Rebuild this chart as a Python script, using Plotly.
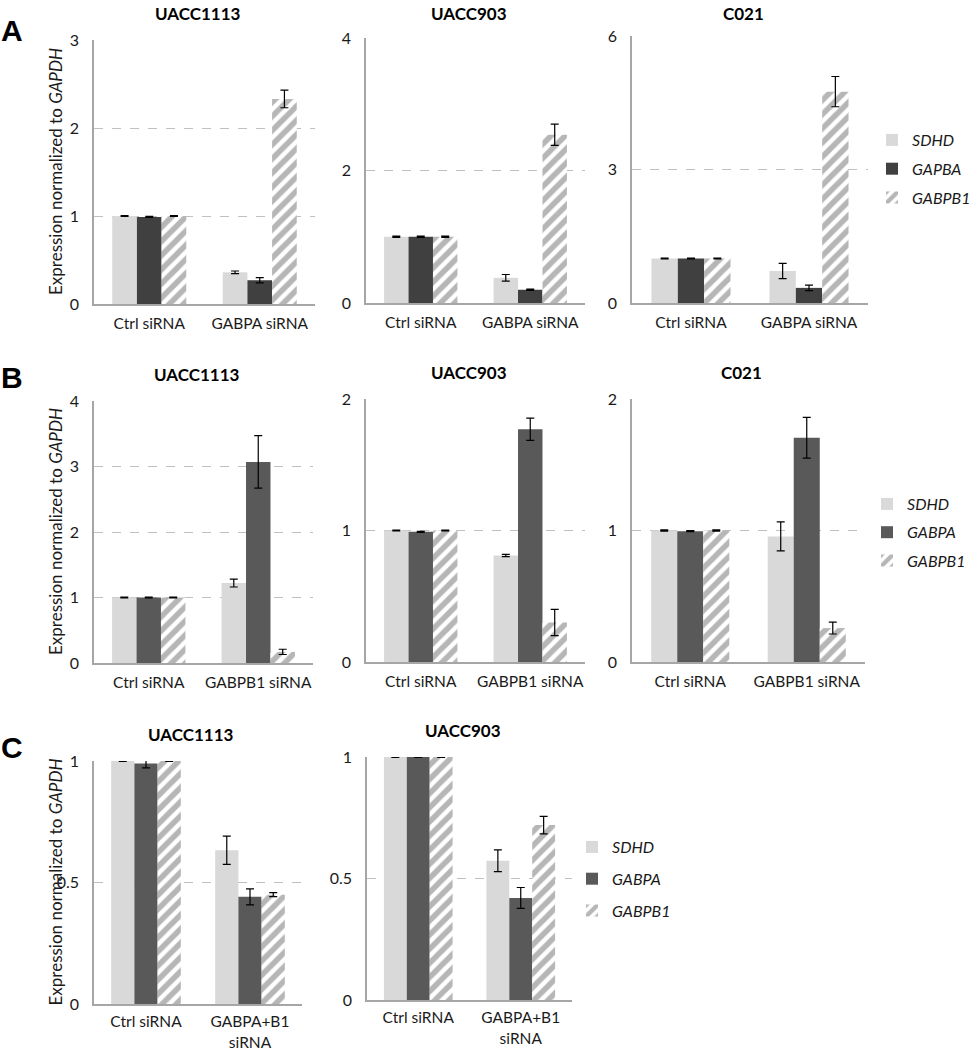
import plotly.graph_objects as go
from plotly.subplots import make_subplots

W, H = 972, 1050

# legend labels (row A legend is printed as "GAPBA" in the source figure)
genes_a = ["SDHD", "GAPBA", "GABPB1"]
genes_bc = ["SDHD", "GABPA", "GABPB1"]

cats_a = ["Ctrl siRNA", "GABPA siRNA"]
cats_b = ["Ctrl siRNA", "GABPB1 siRNA"]
cats_c = ["Ctrl siRNA", "GABPA+B1<br>siRNA"]

# each list: [SDHD, GABPA, GABPB1], each gene -> [ctrl, knockdown]
a_uacc1113 = [[1.00, 0.36], [0.99, 0.27], [1.00, 2.33]]
a_uacc1113_err = [[0.004, 0.015], [0.006, 0.03], [0.004, 0.10]]
a_uacc903 = [[1.00, 0.38], [1.00, 0.20], [1.00, 2.54]]
a_uacc903_err = [[0.008, 0.05], [0.01, 0.01], [0.008, 0.16]]
a_c021 = [[1.00, 0.72], [1.00, 0.34], [1.00, 4.75]]
a_c021_err = [[0.01, 0.17], [0.01, 0.06], [0.01, 0.34]]

b_uacc1113 = [[1.00, 1.22], [1.00, 3.07], [1.00, 0.17]]
b_uacc1113_err = [[0.006, 0.06], [0.006, 0.40], [0.006, 0.04]]
b_uacc903 = [[1.00, 0.81], [0.99, 1.77], [1.00, 0.30]]
b_uacc903_err = [[0.003, 0.008], [0.004, 0.085], [0.003, 0.10]]
b_c021 = [[1.00, 0.955], [0.995, 1.705], [1.00, 0.258]]
b_c021_err = [[0.004, 0.11], [0.004, 0.155], [0.004, 0.045]]

c_uacc1113 = [[1.00, 0.633], [0.99, 0.441], [1.00, 0.45]]
c_uacc1113_err = [[0.002, 0.058], [0.018, 0.033], [0.002, 0.008]]
c_uacc903 = [[1.00, 0.573], [1.00, 0.42], [1.00, 0.72]]
c_uacc903_err = [[0.002, 0.045], [0.002, 0.043], [0.002, 0.036]]

sdhd_color = "#d9d9d9"
gabpa_dark = "#404040"
gabpa_mid = "#595959"
stripe = "#6e6e6e"
FONT = "Lato"


def px(x):
    return x / W


def py(y):
    return 1 - y / H


# row, col, title, cats, vals, errs, tickvals, pixel box (x0, x1, ytop, ybottom), legend
panels = [
    (1, 1, "UACC1113", cats_a, a_uacc1113, a_uacc1113_err, [0, 1, 2, 3], (94, 315, 40, 304), "legend"),
    (1, 2, "UACC903", cats_a, a_uacc903, a_uacc903_err, [0, 2, 4], (366, 585, 38, 303), "legend"),
    (1, 3, "C021", cats_a, a_c021, a_c021_err, [0, 3, 6], (632, 868, 36, 303), "legend"),
    (2, 1, "UACC1113", cats_b, b_uacc1113, b_uacc1113_err, [0, 1, 2, 3, 4], (94, 313, 401, 663), "legend2"),
    (2, 2, "UACC903", cats_b, b_uacc903, b_uacc903_err, [0, 1, 2], (366, 585, 399, 662), "legend2"),
    (2, 3, "C021", cats_b, b_c021, b_c021_err, [0, 1, 2], (632, 865, 399, 662), "legend2"),
    (3, 1, "UACC1113", cats_c, c_uacc1113, c_uacc1113_err, [0, 0.5, 1], (94, 302, 761, 1004), "legend3"),
    (3, 2, "UACC903", cats_c, c_uacc903, c_uacc903_err, [0, 0.5, 1], (367, 572, 757, 1000), "legend3"),
]

fig = make_subplots(rows=3, cols=3,
                    specs=[[{}, {}, {}], [{}, {}, {}], [{}, {}, None]])

annotations = []
for row, col, title, cats, vals, errs, ticks, box, leg in panels:
    names = genes_a if row == 1 else genes_bc
    mid = gabpa_dark if row == 1 else gabpa_mid
    show = (col == 2) if row == 3 else (col == 3)
    styles = [
        dict(color=sdhd_color),
        dict(color=mid),
        dict(color="white", pattern=dict(shape="/", fgcolor=stripe, bgcolor="white",
                                         size=10, solidity=0.55)),
    ]
    for i in range(3):
        fig.add_trace(go.Bar(
            x=cats, y=vals[i],
            error_y=dict(type="data", array=errs[i], color="black", thickness=1.2, width=4),
            name=f"<i>{names[i]}</i>",
            marker=dict(line=dict(width=0), **styles[i]),
            legend=leg, legendgroup=f"{leg}_{i}", showlegend=show,
        ), row=row, col=col)

    x0, x1, yt, yb = box
    fig.update_xaxes(domain=[px(x0), px(x1)], row=row, col=col, automargin=False,
                     showline=True, linecolor="#a6a6a6", linewidth=1.5,
                     showgrid=False, ticks="", ticklabelstandoff=3 if row == 3 else 5,
                     tickfont=dict(size=15.5, color="#1a1a1a", family=FONT))
    fig.update_yaxes(domain=[py(yb), py(yt)], row=row, col=col, automargin=False,
                     range=[0, ticks[-1]], tickvals=ticks,
                     ticktext=[("%g" % t) for t in ticks],
                     showline=True, linecolor="#a6a6a6", linewidth=1.5,
                     showgrid=True, gridcolor="#c0c0c0", griddash="dash", gridwidth=1,
                     zeroline=False, ticks="", ticklabelstandoff=10,
                     tickfont=dict(size=16, color="#1a1a1a", family=FONT))

    title_y = 13 if row == 1 else yt - 27
    annotations.append(dict(
        text=f"<b>{title}</b>", x=px((x0 + x1) / 2 - 7), y=py(title_y),
        xref="paper", yref="paper", showarrow=False, xanchor="center", yanchor="middle",
        font=dict(size=17, color="black", family=FONT)))
    if col == 1:
        annotations.append(dict(
            text="Expression normalized to <i>GAPDH</i>", textangle=-90,
            x=px(55), y=py((yt + yb) / 2), xref="paper", yref="paper",
            showarrow=False, xanchor="center", yanchor="middle",
            font=dict(size=17, color="#1a1a1a", family=FONT)))

for letter, lx, ly in [("A", 12, 31), ("B", 12, 377), ("C", 12, 747)]:
    annotations.append(dict(
        text=f"<b>{letter}</b>", x=px(lx), y=py(ly), xref="paper", yref="paper",
        showarrow=False, xanchor="center", yanchor="middle",
        font=dict(size=30, color="black", family="Liberation Sans")))

legend_style = dict(font=dict(size=16, color="#1a1a1a", family=FONT),
                    bgcolor="rgba(0,0,0,0)", itemwidth=30,
                    xanchor="left", yanchor="top", xref="paper", yref="paper")

fig.update_layout(
    width=W, height=H,
    margin=dict(l=0, r=0, t=0, b=0, autoexpand=False),
    paper_bgcolor="white", plot_bgcolor="white",
    barmode="group", bargap=0.33, bargroupgap=0,
    annotations=annotations,
    legend=dict(x=px(872), y=py(123), tracegroupgap=5, **legend_style),
    legend2=dict(x=px(867), y=py(487), tracegroupgap=4.5, **legend_style),
    legend3=dict(x=px(572), y=py(830), tracegroupgap=8, **legend_style),
    font=dict(family=FONT),
)

# drop the browser's default 8px body margin so the figure fills the window
fig.write_html("out.html", config={"displayModeBar": False},
               post_script="document.body.style.margin = '0';")
